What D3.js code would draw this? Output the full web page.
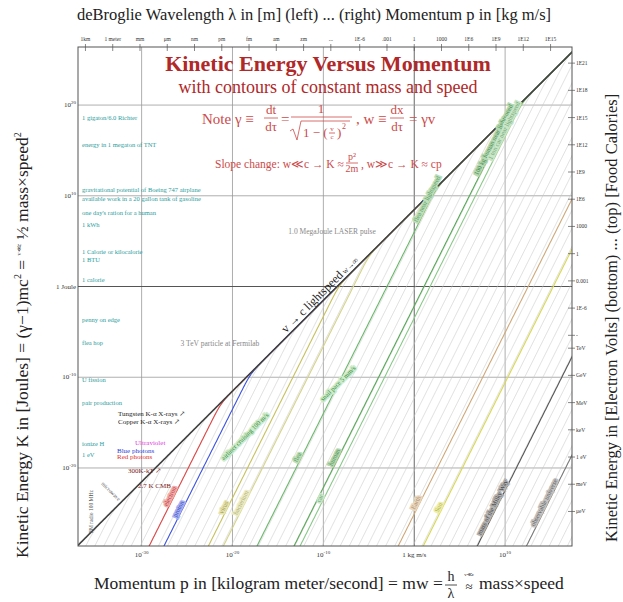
<!DOCTYPE html>
<html>
<head>
<meta charset="utf-8">
<script src="https://cdn.jsdelivr.net/npm/d3@7"></script>
<style>
  body { margin: 0; background: #fff; }
  text { font-family: "Liberation Serif", "DejaVu Serif", serif; }
</style>
</head>
<body>
<svg></svg>
<script>
// physical constants
const c = 299792458
const h = 6.626e-34

// axis domains (log10)
const logPRange = [-37, 17.36]
const logKRange = [-28.6, 26.4]

// bottom / left gridlines
const pGrid = [1e-30, 1e-20, 1e-10, 1, 1e10]
const pGridLabels = [['10', '-30'], ['10', '-20'], ['10', '-10'], ['1 kg m/s', ''], ['10', '10']]
const kGrid = [1e20, 1e10, 1, 1e-10, 1e-20]
const kGridLabels = [['10', '20'], ['10', '10'], ['1 Joule', ''], ['10', '-10'], ['10', '-20']]

// top axis: wavelength (left part) and momentum (right part)
const waveNames = ['1km', '1 meter', 'mm', 'μm', 'nm', 'pm', 'fm', 'am', 'zm', '...']
const waveMeters = [1e3, 1, 1e-3, 1e-6, 1e-9, 1e-12, 1e-15, 1e-18, 1e-21, 1e-24]
const momNames = ['1E-6', '.001', '1', '1000', '1E6', '1E9', '1E12', '1E15']
const momValues = [1e-6, 1e-3, 1, 1e3, 1e6, 1e9, 1e12, 1e15]

// right axis: food calories (top) and electron volts (bottom)
const calNames = ['1E21', '1E18', '1E15', '1E12', '1E9', '1E6', '1000', '1', '0.001', '1E-6', '-']
const calValues = [1e21, 1e18, 1e15, 1e12, 1e9, 1e6, 1e3, 1, 1e-3, 1e-6, 1e-9]
const evNames = ['TeV', 'GeV', 'MeV', 'keV', '1 eV', 'meV', 'μeV']
const evValues = [1e12, 1e9, 1e6, 1e3, 1, 1e-3, 1e-6]

// background contours of constant mass, exponent of kg
const hatchMassExp = [-46, -44, -42, -40, -38, -36, -34, -32, -30, -28, -26, -24, -22, -20,
  -18, -16, -14, -12, -10, -8, -6, -4, -2, 0, 2, 4, 6, 8, 10, 12, 14, 16, 18, 20, 22, 24,
  26, 28, 30, 32, 34, 36, 38, 40, 42, 44, 46, 48, 50, 52, 54, 56, 58, 60, 62]

// named masses
const massNames = ['electron', 'proton', 'virus', 'bacterium', 'flea', 'human', 'car',
  'Earth', 'Sun', 'mass of the Milky Way', 'observable universe']
const massKg = [9.11e-31, 1.67e-27, 1e-17, 2e-14, 5e-7, 70, 1500, 5.97e24, 1.99e30, 1.5e42, 1e53]

// speed notes (m/s) written along lines of constant speed, and the energy where each sits
const speedNames = ['airliner cruising 100 m/s', 'snail pace 5 mm/s']
const speedValues = [118, 0.0046]
const speedNoteJoules = [2e-17, 1.4e-11]

// energy landmarks on the left (joules)
const noteNames = ['1 gigaton/6.0 Richter', 'energy in 1 megaton of TNT',
  'gravitational potential of Boeing 747 airplane', 'available work in a 20 gallon tank of gasoline',
  "one day's ration for a human", '1 kWh', '1 Calorie or kilocalorie', '1 BTU', '1 calorie',
  'penny on edge', 'flea hop', 'U fission', 'pair production', 'ionize H', '1 eV']
const noteJoules = [2.5e18, 2.3e15, 2.5e10, 3e9, 7.6e7, 3.6e6, 4184, 500, 3.2,
  1.3e-4, 3.5e-7, 3.2e-11, 9e-14, 2.5e-18, 1.6e-19]

// photon landmarks near the lightspeed line (joules)
const photonNames = ['Tungsten K-α X-rays ↗', 'Copper K-α X-rays ↗', 'Ultraviolet', 'Blue photons',
  'Red photons', '300K-kT ↗', '2.7 K CMB']
const photonJoules = [9.5e-15, 1.3e-15, 5e-18, 8e-19, 1.5e-19, 4.1e-21, 1e-22]

// other energies
const eventNames = ['1.0 MegaJoule LASER pulse', '3 TeV particle at Fermilab']
const eventJoules = [1e6, 4.8e-7]

const svg = d3.select('svg')
const [W, H] = [623, 602]
svg.attr('width', W).attr('height', H)
const margin = {top: 47, right: 51, bottom: 56, left: 78}
const L = margin.left, R = W - margin.right, T = margin.top, B = H - margin.bottom

const x = d3.scaleLog().domain(logPRange.map(v => Math.pow(10, v))).range([L, R])
const y = d3.scaleLog().domain(logKRange.map(v => Math.pow(10, v))).range([B, T])

const color = d3.scaleOrdinal()
  .domain(massNames)
  .range(['#e04848', '#3a52e0', '#c8c05a', '#d4d488', '#6cb86c', '#58a858', '#88c888',
    '#d0a878', '#d8d850', '#555555', '#777777'])

svg.append('defs').append('clipPath').attr('id', 'plot')
  .append('rect').attr('x', L).attr('y', T).attr('width', R - L).attr('height', B - T)

const kinetic = (p, m) => {
  if (m === 0) return p * c
  const r = p / (m * c)
  return p * p / m / (Math.sqrt(1 + r * r) + 1)
}
const momentum = (K, m) => Math.sqrt(K * K + 2 * K * m * c * c) / c

const logPs = d3.range(logPRange[0] - 0.2, logPRange[1] + 0.2, 0.04)
const line = d3.line().x(d => x(d[0])).y(d => y(d[1]))
const curve = m => logPs.map(lp => {
  const p = Math.pow(10, lp)
  return [p, Math.max(kinetic(p, m), 1e-200)]
})

const plot = svg.append('g').attr('clip-path', 'url(#plot)')

// grid
plot.selectAll('.vgrid').data(pGrid).enter().append('line')
  .attr('x1', d => x(d)).attr('x2', d => x(d)).attr('y1', T).attr('y2', B)
  .attr('stroke', d => d === 1 ? '#666' : '#999').attr('stroke-width', d => d === 1 ? 1 : 0.8)
plot.selectAll('.hgrid').data(kGrid).enter().append('line')
  .attr('y1', d => y(d)).attr('y2', d => y(d)).attr('x1', L).attr('x2', R)
  .attr('stroke', d => d === 1 ? '#555' : '#999').attr('stroke-width', d => d === 1 ? 1.1 : 0.8)

// hatching of constant mass
plot.selectAll('.hatch').data(hatchMassExp).enter().append('path')
  .attr('d', e => line(curve(Math.pow(10, e))))
  .attr('fill', 'none').attr('stroke', '#c8c8c8').attr('stroke-width', 0.6)

// named mass curves
plot.selectAll('.mass').data(massNames).enter().append('path')
  .attr('d', (d, i) => line(curve(massKg[i])))
  .attr('fill', 'none').attr('stroke', d => color(d)).attr('stroke-width', 1.1)

// lightspeed line
plot.append('path').attr('d', line(curve(0)))
  .attr('fill', 'none').attr('stroke', '#444').attr('stroke-width', 1.6)

// labels along the curves (energy where each label sits)
const labelAt = [
  ['electron', 5e-24], ['proton', 2e-25], ['virus', 3e-25], ['bacterium', 1e-24], ['flea', 1e-19],
  ['human', 1e-19], ['car', 3e-24], ['Earth', 1e-24], ['Sun', 3e-25],
  ['mass of the Milky Way', 3e-25], ['observable universe', 1e-24],
  ['flea', 3e9], ['human', 1e16], ['car', 1e17]
]
const curveLabel = {flea: 'flea near lightspeed', human: '100 kg human near lightspeed', car: '1 ton car near lightspeed'}
const labelPoint = (m, K) => {
  const p = momentum(K, m)
  const px = x(p), py = y(K)
  const p2 = p * 1.05
  const ang = Math.atan2(y(kinetic(p2, m)) - py, x(p2) - px) * 180 / Math.PI
  return {px, py, ang}
}
labelAt.forEach(([name, K], j) => {
  const m = massKg[massNames.indexOf(name)]
  const lp = labelPoint(m, K)
  svg.append('text')
    .attr('transform', `translate(${lp.px},${lp.py}) rotate(${lp.ang})`)
    .attr('dy', -1.5).attr('text-anchor', 'middle')
    .attr('font-size', 6.5).attr('fill', d3.color(color(name)).darker(0.5))
    .attr('stroke', d3.interpolateRgb(color(name), '#fff')(0.55)).attr('stroke-width', 3)
    .attr('paint-order', 'stroke')
    .text(j > 10 ? curveLabel[name] : name)
})

// speed notes: K/p = v / (1 + sqrt(1 - (v/c)^2)) for any mass, slope 1
speedValues.forEach((v, i) => {
  const ratio = v / (1 + Math.sqrt(1 - (v / c) ** 2))
  const K = speedNoteJoules[i]
  svg.append('text')
    .attr('transform', `translate(${x(K / ratio)},${y(K)}) rotate(-45)`)
    .attr('text-anchor', 'middle').attr('font-size', 6.5).attr('fill', '#3c8c3c')
    .attr('stroke', '#cdeccd').attr('stroke-width', 3).attr('paint-order', 'stroke')
    .text(speedNames[i])
})

// lightspeed label
{
  const K = 0.04
  const px = x(K / c), py = y(K)
  svg.append('text')
    .attr('transform', `translate(${px},${py}) rotate(-45)`)
    .attr('dy', -3).attr('text-anchor', 'middle').attr('fill', '#222').attr('font-size', 12)
    .text('v → c lightspeed').append('tspan').attr('font-size', 8).text(' w→∞')
}

// frame
svg.append('rect').attr('x', L).attr('y', T).attr('width', R - L).attr('height', B - T)
  .attr('fill', 'none').attr('stroke', '#555').attr('stroke-width', 1)

// bottom axis labels
const bottomLab = svg.selectAll('.bl').data(pGrid).enter().append('text')
  .attr('x', d => x(d)).attr('y', B + 11).attr('text-anchor', 'middle')
  .attr('font-size', 7).attr('fill', '#333')
bottomLab.append('tspan').text((d, i) => pGridLabels[i][0])
bottomLab.append('tspan').attr('dy', -3).attr('font-size', 5).text((d, i) => pGridLabels[i][1])

// left axis labels
const leftLab = svg.selectAll('.ll').data(kGrid).enter().append('text')
  .attr('x', L - 2).attr('y', d => y(d) + 2).attr('text-anchor', 'end')
  .attr('font-size', 7).attr('fill', '#333')
leftLab.append('tspan').text((d, i) => kGridLabels[i][0])
leftLab.append('tspan').attr('dy', -3).attr('font-size', 5).text((d, i) => kGridLabels[i][1])

// top axis ticks
const topTicks = waveMeters.map(w => h / w).concat(momValues)
const topNames = waveNames.concat(momNames)
svg.selectAll('.tt').data(topTicks).enter().append('line')
  .attr('x1', d => x(d)).attr('x2', d => x(d)).attr('y1', T - 3).attr('y2', T + 4)
  .attr('stroke', '#555').attr('stroke-width', 0.7)
svg.selectAll('.tl').data(topTicks).enter().append('text')
  .attr('x', d => x(d)).attr('y', T - 6).attr('text-anchor', 'middle')
  .attr('font-size', 5.5).attr('fill', '#333')
  .text((d, i) => topNames[i])

// right axis ticks
const rightTicks = calValues.map(v => v * 4184).concat(evValues.map(v => v * 1.602e-19))
const rightNames = calNames.concat(evNames)
svg.selectAll('.rt').data(rightTicks).enter().append('line')
  .attr('x1', R - 4).attr('x2', R + 3).attr('y1', d => y(d)).attr('y2', d => y(d))
  .attr('stroke', '#555').attr('stroke-width', 0.7)
svg.selectAll('.rl').data(rightTicks).enter().append('text')
  .attr('x', R + 4).attr('y', d => y(d) + 2)
  .attr('font-size', 5.5).attr('fill', '#333')
  .text((d, i) => rightNames[i])

// energy notes
svg.selectAll('.note').data(noteJoules).enter().append('text')
  .attr('x', L + 4).attr('y', d => y(d))
  .attr('font-size', 6.5).attr('fill', '#2a9c9c')
  .text((d, i) => noteNames[i])

// photon notes
const photonColor = ['#222', '#222', '#e040e0', '#2c3cd8', '#e03030', '#7a2020', '#7a2020']
const photonX = [118, 118, 135, 117, 117, 128, 138]
svg.selectAll('.photon').data(photonJoules).enter().append('text')
  .attr('x', (d, i) => photonX[i]).attr('y', d => y(d) + 2)
  .attr('font-size', 7).attr('fill', (d, i) => photonColor[i])
  .text((d, i) => photonNames[i])

// event notes
const eventX = [332, 220]
svg.selectAll('.event').data(eventJoules).enter().append('text')
  .attr('x', (d, i) => eventX[i]).attr('y', d => y(d) + 2).attr('text-anchor', 'middle')
  .attr('font-size', 7.5).attr('fill', '#888')
  .text((d, i) => eventNames[i])

// radio labels near lower left
svg.append('text').attr('transform', 'translate(93,533) rotate(-90)')
  .attr('font-size', 5.5).attr('fill', '#555').text('FM radio 100 MHz')
svg.append('text').attr('transform', 'translate(101,484) rotate(45)')
  .attr('font-size', 5.5).attr('fill', '#555').text('microwave')

// titles
const red = '#b02828'
svg.append('text').attr('x', 328).attr('y', 71).attr('text-anchor', 'middle')
  .attr('font-size', 22).attr('font-weight', 'bold').attr('fill', red)
  .text('Kinetic Energy Versus Momentum')
svg.append('text').attr('x', 328).attr('y', 93).attr('text-anchor', 'middle')
  .attr('font-size', 18).attr('fill', red)
  .text('with contours of constant mass and speed')

// formula block
const fr = '#cc4a4a'
const f = svg.append('g').attr('fill', fr)
const txt = (x0, y0, s, size, anchor) => f.append('text').attr('x', x0).attr('y', y0)
  .attr('font-size', size).attr('text-anchor', anchor || 'start').text(s)
const bar = (x1, x2, y0) => f.append('line').attr('x1', x1).attr('x2', x2).attr('y1', y0).attr('y2', y0)
  .attr('stroke', fr).attr('stroke-width', 0.8)

txt(202, 124, 'Note  γ ≡', 15)
txt(271, 114, 'dt', 13, 'middle'); bar(264, 278, 118); txt(271, 131, 'dτ', 13, 'middle')
txt(281, 124, '=', 15)
txt(321, 113, '1', 13, 'middle'); bar(291, 352, 117)
f.append('path').attr('d', 'M290,131 L293,129 L297,140 L301,121 L350,121')
  .attr('fill', 'none').attr('stroke', fr).attr('stroke-width', 0.8)
txt(303, 137, '1 − (', 13)
txt(332, 131, 'v', 7, 'middle'); bar(329, 335, 133); txt(332, 139, 'c', 7, 'middle')
txt(337, 137, ')', 13)
txt(342, 129, '2', 8)
txt(356, 124, ', w ≡', 15)
txt(397, 114, 'dx', 13, 'middle'); bar(390, 404, 118); txt(397, 131, 'dτ', 13, 'middle')
txt(409, 124, '= γv', 15)

txt(215, 168, 'Slope change: w≪c → K ≈', 11.5)
txt(352, 160, 'p²', 10, 'middle'); bar(346, 358, 163); txt(352, 172, '2m', 10, 'middle')
txt(361, 168, ', w≫c → K ≈ cp', 11.5)

// axis titles
svg.append('text').attr('x', 314).attr('y', 20).attr('text-anchor', 'middle')
  .attr('font-size', 16.5).attr('fill', '#222')
  .text('deBroglie Wavelength λ in [m] (left) ... (right) Momentum p in [kg m/s]')

const bt = svg.append('g').attr('fill', '#222')
bt.append('text').attr('x', 94).attr('y', 589).attr('font-size', 17.5)
  .text('Momentum p in [kilogram meter/second] = mw =')
bt.append('text').attr('x', 451).attr('y', 581).attr('text-anchor', 'middle').attr('font-size', 14).text('h')
bt.append('text').attr('x', 451).attr('y', 598).attr('text-anchor', 'middle').attr('font-size', 14).text('λ')
bt.append('line').attr('x1', 445).attr('x2', 457).attr('y1', 585).attr('y2', 585).attr('stroke', '#222').attr('stroke-width', 0.8)
bt.append('text').attr('x', 469).attr('y', 576).attr('text-anchor', 'middle').attr('font-size', 5).text('v≪c')
bt.append('text').attr('x', 469).attr('y', 591).attr('text-anchor', 'middle').attr('font-size', 13).text('≈')
bt.append('text').attr('x', 479).attr('y', 589).attr('font-size', 17.5).text('mass×speed')

const lt = svg.append('text').attr('transform', 'translate(28,558) rotate(-90)')
  .attr('font-size', 17.5).attr('fill', '#222')
lt.append('tspan').text('Kinetic Energy K in [Joules] = (γ−1)mc')
lt.append('tspan').attr('dy', -7).attr('font-size', 10).text('2')
lt.append('tspan').attr('dy', 7).text(' = ')
lt.append('tspan').attr('font-size', 6).attr('dy', -7).text('v≪c')
lt.append('tspan').attr('dy', 7).text(' ½ mass×speed')
lt.append('tspan').attr('dy', -7).attr('font-size', 10).text('2')

svg.append('text').attr('transform', 'translate(617,542) rotate(-90)')
  .attr('font-size', 16.5).attr('fill', '#222')
  .text('Kinetic Energy in [Electron Volts] (bottom) ... (top) [Food Calories]')
</script>
</body>
</html>
